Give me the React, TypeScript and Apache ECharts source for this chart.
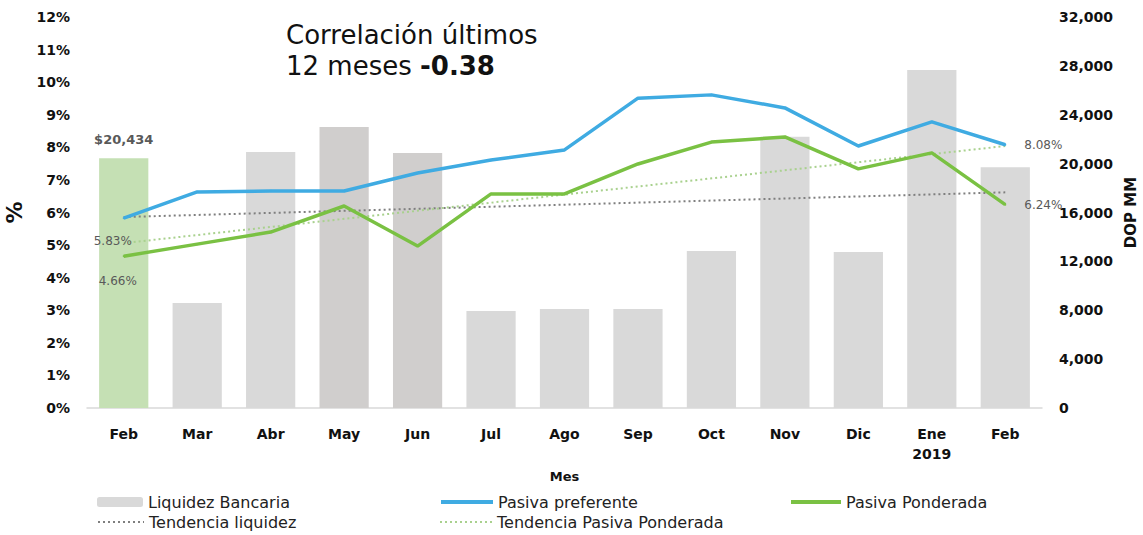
import React, { useEffect, useRef } from "react";
import * as echarts from "echarts";

const months = ["Feb", "Mar", "Abr", "May", "Jun", "Jul", "Ago", "Sep", "Oct", "Nov", "Dic", "Ene\n2019", "Feb"];
const liquidez = [20434, 8600, 20950, 23000, 20870, 7940, 8100, 8100, 12850, 22200, 12770, 27660, 19700];
const pasivaPreferente = [5.83, 6.63, 6.66, 6.66, 7.21, 7.61, 7.92, 9.51, 9.61, 9.21, 8.04, 8.78, 8.08];
const pasivaPonderada = [4.66, 5.03, 5.4, 6.2, 4.97, 6.57, 6.57, 7.49, 8.16, 8.32, 7.34, 7.83, 6.24];
const tendenciaLiquidez = [15630, null, null, null, null, null, null, null, null, null, null, null, 17650];
const tendenciaPonderada = [5.06, null, null, null, null, null, null, null, null, null, null, null, 8.04];
const leftTicks = { min: 0, max: 12, interval: 1 };
const rightTicks = { min: 0, max: 32000, interval: 4000 };

const GRAY = "#d9d9d9";
const DARK_GRAY = "#d0cecd";
const GREEN_BAR = "#c5e0b4";
const BLUE = "#3fabe2";
const GREEN = "#7ac143";
const LABEL = "#595959";
const BOLD_FONT = "'DejaVu Sans', sans-serif";
const LEGEND_FONT = "'DejaVu Sans', sans-serif";

export default function App() {
  const ref = useRef<HTMLDivElement>(null);
  useEffect(() => {
    if (!ref.current) return;
    const chart = echarts.init(ref.current, null, { renderer: "svg" });
    const last = months.length - 1;
    const legendText = { fontFamily: LEGEND_FONT, fontSize: 16, color: "#222" };
    const lineLegend = (name: string, left: number, top: number, w: number, lw: number) => ({
      left, top, itemWidth: w, itemHeight: 14, itemGap: 0, padding: 0,
      textStyle: legendText,
      itemStyle: { opacity: 0 },
      lineStyle: { width: lw },
      data: [name],
    });
    const lineLabel = { fontFamily: "'DejaVu Sans', sans-serif", fontSize: 12, color: LABEL };
    chart.setOption({
      animation: false,
      backgroundColor: "#fff",
      grid: { left: 87, right: 101, top: 17, bottom: 127, containLabel: false, outerBoundsMode: "none" },
      graphic: [
        {
          type: "text",
          left: 286,
          top: 19,
          style: {
            text: "Correlación últimos\n12 meses {b|-0.38}",
            font: "26px 'DejaVu Sans', sans-serif",
            fill: "#111",
            lineHeight: 31,
            rich: {
              b: { fontWeight: "bold", fontSize: 26, fontFamily: "'DejaVu Sans', sans-serif", fill: "#111", lineHeight: 31 } as any,
            },
          },
        },
      ],
      legend: [
        {
          left: 97, top: 494, itemWidth: 46, itemHeight: 10, itemGap: 0, padding: 0,
          textStyle: legendText,
          data: ["Liquidez Bancaria"],
        },
        lineLegend("Tendencia liquidez", 97, 514, 46, 2),
        lineLegend("Pasiva preferente", 439, 494, 52, 4),
        lineLegend("Tendencia Pasiva Ponderada", 439, 514, 52, 2),
        lineLegend("Pasiva Ponderada", 789, 494, 50, 4),
      ],
      xAxis: {
        type: "category",
        data: months,
        name: "Mes",
        nameLocation: "middle",
        nameGap: 62,
        nameTextStyle: { fontFamily: BOLD_FONT, fontWeight: "bold", fontSize: 13, color: "#111" },
        axisLine: { lineStyle: { color: GRAY, width: 1.5 } },
        axisTick: { show: false },
        axisLabel: { fontFamily: BOLD_FONT, fontWeight: "bold", fontSize: 14, color: "#111", margin: 16, lineHeight: 20 },
      },
      yAxis: [
        {
          type: "value",
          ...leftTicks,
          name: "%",
          nameLocation: "middle",
          nameGap: 60,
          nameRotate: 90,
          nameTextStyle: { fontFamily: BOLD_FONT, fontWeight: "bold", fontSize: 22, color: "#111" },
          axisLine: { show: false },
          axisTick: { show: false },
          splitLine: { show: false },
          axisLabel: { formatter: "{value}%", fontFamily: BOLD_FONT, fontWeight: "bold", fontSize: 14, color: "#111", margin: 17 },
        },
        {
          type: "value",
          ...rightTicks,
          name: "DOP MM",
          nameLocation: "middle",
          nameGap: 78,
          nameRotate: 90,
          nameTextStyle: { fontFamily: BOLD_FONT, fontWeight: "bold", fontSize: 15, color: "#111" },
          axisLine: { show: false },
          axisTick: { show: false },
          splitLine: { show: false },
          axisLabel: {
            formatter: (v: number) => v.toLocaleString("en-US"),
            fontFamily: BOLD_FONT, fontWeight: "bold", fontSize: 14, color: "#111", margin: 17,
          },
        },
      ],
      series: [
        {
          name: "Liquidez Bancaria",
          type: "bar",
          yAxisIndex: 1,
          barWidth: "67%",
          itemStyle: { color: GRAY },
          data: liquidez.map((v, i) => {
            if (i === 0)
              return {
                value: v,
                itemStyle: { color: GREEN_BAR },
                label: {
                  show: true, position: "top", distance: 12,
                  formatter: (p: any) => "$" + Number(p.value).toLocaleString("en-US"),
                  fontFamily: BOLD_FONT, fontWeight: "bold", fontSize: 13, color: LABEL,
                },
              };
            if (i === 3 || i === 4) return { value: v, itemStyle: { color: DARK_GRAY } };
            return v;
          }),
        },
        {
          name: "Tendencia liquidez",
          type: "line",
          yAxisIndex: 1,
          symbol: "none",
          connectNulls: true,
          lineStyle: { color: "#7f7f7f", width: 2, type: [2, 3] },
          itemStyle: { color: "#7f7f7f" },
          data: tendenciaLiquidez,
        },
        {
          name: "Tendencia Pasiva Ponderada",
          type: "line",
          yAxisIndex: 0,
          symbol: "none",
          connectNulls: true,
          lineStyle: { color: "#a9d18e", width: 2, type: [2, 3] },
          itemStyle: { color: "#a9d18e" },
          data: tendenciaPonderada,
        },
        {
          name: "Pasiva preferente",
          type: "line",
          yAxisIndex: 0,
          symbol: "circle",
          symbolSize: 2,
          showSymbol: true,
          lineStyle: { color: BLUE, width: 3.5 },
          itemStyle: { color: BLUE },
          label: { show: false, ...lineLabel },
          data: pasivaPreferente.map((v, i) => {
            if (i === 0)
              return { value: v, label: { show: true, position: [-29, 18], formatter: v.toFixed(2) + "%", ...lineLabel } };
            if (i === last)
              return { value: v, label: { show: true, position: "right", distance: 18, formatter: v.toFixed(2) + "%", ...lineLabel } };
            return v;
          }),
        },
        {
          name: "Pasiva Ponderada",
          type: "line",
          yAxisIndex: 0,
          symbol: "circle",
          symbolSize: 2,
          showSymbol: true,
          lineStyle: { color: GREEN, width: 3.5 },
          itemStyle: { color: GREEN },
          label: { show: false, ...lineLabel },
          data: pasivaPonderada.map((v, i) => {
            if (i === 0)
              return { value: v, label: { show: true, position: [-24, 20], formatter: v.toFixed(2) + "%", ...lineLabel } };
            if (i === last)
              return { value: v, label: { show: true, position: "right", distance: 18, formatter: v.toFixed(2) + "%", ...lineLabel } };
            return v;
          }),
        },
      ],
    });
    return () => chart.dispose();
  }, []);
  return <div ref={ref} style={{ position: "fixed", left: 0, top: 0, width: 1143, height: 535 }} />;
}
